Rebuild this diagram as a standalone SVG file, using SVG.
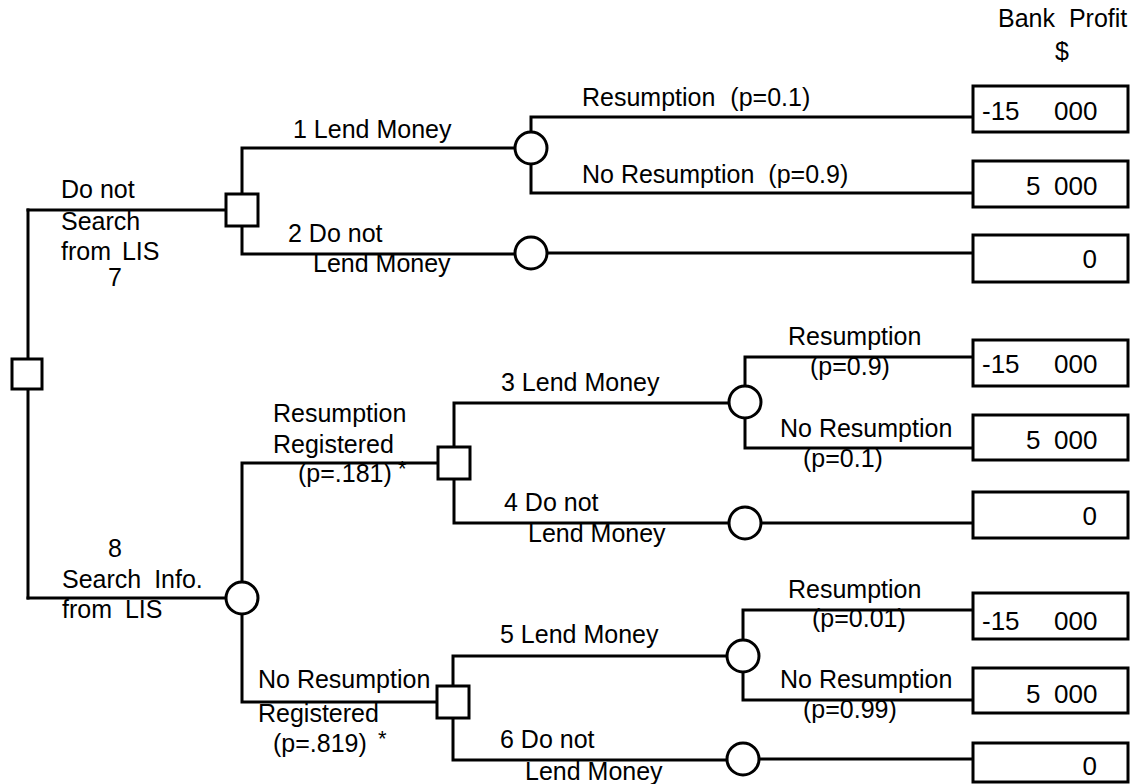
<svg xmlns="http://www.w3.org/2000/svg" width="1139" height="784" viewBox="0 0 1139 784">
  <style>
    .ln { fill: none; stroke: #000; stroke-width: 3; stroke-linecap: square; }
    .dec, .chn, .pay { fill: #fff; stroke: #000; stroke-width: 3; }
    text { font-family: "Liberation Sans", Arial, Helvetica, sans-serif; font-size: 25px; fill: #000; white-space: pre; }
    .mid { text-anchor: middle; }
    .end { text-anchor: end; }
    .val { font-size: 26px; }
    .star { font-size: 22px; }
  </style>
  <rect width="1139" height="784" fill="#fff"/>

  <!-- branch lines of the decision tree -->
  <g id="connectors">
    <path class="ln" d="M28 210 V598"/>
    <path class="ln" d="M28 210 H226"/>
    <path class="ln" d="M242 148 V254 M242 148 H515 M242 254 H515"/>
    <path class="ln" d="M531 117 V193 M531 117 H973 M531 193 H973"/>
    <path class="ln" d="M547 253 H973"/>
    <path class="ln" d="M28 598 H226"/>
    <path class="ln" d="M242 463 V702 M242 463 H438 M242 702 H437"/>
    <path class="ln" d="M454 403 V523 M454 403 H729 M454 523 H729"/>
    <path class="ln" d="M745 357 V448 M745 357 H973 M745 448 H973"/>
    <path class="ln" d="M761 523 H973"/>
    <path class="ln" d="M453 656 V760 M453 656 H727 M453 760 H727"/>
    <path class="ln" d="M743 610 V700 M743 610 H973 M743 700 H973"/>
    <path class="ln" d="M759 759 H973"/>
  </g>

  <!-- decision nodes -->
  <g id="d-root"><rect class="dec" x="12" y="359" width="30" height="30"/></g>
  <g id="d-nosearch"><rect class="dec" x="226" y="194" width="32" height="32"/></g>
  <g id="d-resreg"><rect class="dec" x="438" y="447" width="32" height="32"/></g>
  <g id="d-noresreg"><rect class="dec" x="437" y="686" width="32" height="32"/></g>

  <!-- chance nodes -->
  <g id="c-lend1"><circle class="chn" cx="531" cy="148" r="16"/></g>
  <g id="c-nolend2"><circle class="chn" cx="531" cy="253" r="16"/></g>
  <g id="c-search"><circle class="chn" cx="242" cy="598" r="16"/></g>
  <g id="c-lend3"><circle class="chn" cx="745" cy="402" r="16"/></g>
  <g id="c-nolend4"><circle class="chn" cx="745" cy="523" r="16"/></g>
  <g id="c-lend5"><circle class="chn" cx="743" cy="656" r="16"/></g>
  <g id="c-nolend6"><circle class="chn" cx="743" cy="759" r="16"/></g>

  <!-- payoff boxes -->
  <g id="p1"><rect class="pay" x="973" y="86" width="155" height="46"/><text class="val" x="982" y="120">-15 <tspan x="1054">000</tspan></text></g>
  <g id="p2"><rect class="pay" x="973" y="161" width="155" height="46"/><text class="val" x="1026" y="195">5 <tspan x="1054">000</tspan></text></g>
  <g id="p3"><rect class="pay" x="973" y="235" width="155" height="47"/><text class="val end" x="1097" y="268">0</text></g>
  <g id="p4"><rect class="pay" x="973" y="340" width="155" height="46"/><text class="val" x="982" y="373">-15 <tspan x="1054">000</tspan></text></g>
  <g id="p5"><rect class="pay" x="973" y="415" width="155" height="45"/><text class="val" x="1026" y="449">5 <tspan x="1054">000</tspan></text></g>
  <g id="p6"><rect class="pay" x="973" y="492" width="155" height="46"/><text class="val end" x="1097" y="525">0</text></g>
  <g id="p7"><rect class="pay" x="973" y="593" width="155" height="46"/><text class="val" x="982" y="630">-15 <tspan x="1054">000</tspan></text></g>
  <g id="p8"><rect class="pay" x="973" y="668" width="155" height="45"/><text class="val" x="1026" y="703">5 <tspan x="1054">000</tspan></text></g>
  <g id="p9"><rect class="pay" x="973" y="743" width="155" height="39"/><text class="val end" x="1097" y="775">0</text></g>

  <!-- column heading -->
  <g id="heading">
    <text x="998" y="27" word-spacing="7">Bank Profit</text>
    <text class="mid" x="1062" y="60">$</text>
  </g>

  <!-- branch labels -->
  <g id="labels">
    <text x="61" y="198">Do not</text>
    <text x="61" y="230">Search</text>
    <text x="61" y="260" word-spacing="4">from LIS</text>
    <text class="mid" x="115" y="286">7</text>

    <text x="293" y="138">1 Lend Money</text>
    <text x="288" y="242">2 Do not</text>
    <text x="313" y="272">Lend Money</text>
    <text x="582" y="106" word-spacing="8">Resumption (p=0.1)</text>
    <text x="582" y="183">No Resumption<tspan dx="14">(p=0.9)</tspan></text>

    <text class="mid" x="115" y="557">8</text>
    <text x="62" y="588" word-spacing="6">Search Info.</text>
    <text x="62" y="618" word-spacing="6">from LIS</text>

    <text x="273" y="422">Resumption</text>
    <text x="273" y="453">Registered</text>
    <text x="298" y="482">(p=.181)</text>
    <text class="star" x="398" y="476">*</text>

    <text x="501" y="391">3 Lend Money</text>
    <text x="504" y="511">4 Do not</text>
    <text x="528" y="542">Lend Money</text>
    <text x="788" y="345">Resumption</text>
    <text x="810" y="375">(p=0.9)</text>
    <text x="780" y="437">No Resumption</text>
    <text x="803" y="467">(p=0.1)</text>

    <text x="258" y="688">No Resumption</text>
    <text x="258" y="722">Registered</text>
    <text x="273" y="752">(p=.819)</text>
    <text class="star" x="378" y="746">*</text>

    <text x="500" y="643">5 Lend Money</text>
    <text x="500" y="748">6 Do not</text>
    <text x="525" y="780">Lend Money</text>
    <text x="788" y="598">Resumption</text>
    <text x="812" y="627">(p=0.01)</text>
    <text x="780" y="688">No Resumption</text>
    <text x="803" y="718">(p=0.99)</text>
  </g>
</svg>
